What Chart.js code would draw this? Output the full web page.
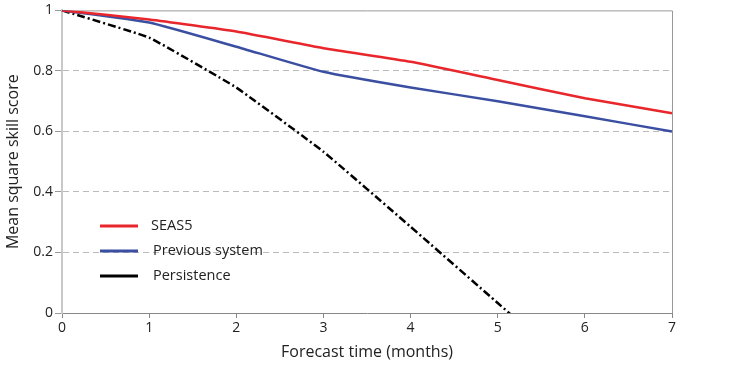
<!DOCTYPE html>
<html>
<head>
<meta charset="utf-8">
<script src="https://cdn.jsdelivr.net/npm/chart.js@4"></script>
<style>
  html, body { margin: 0; padding: 0; background: #fff; }
  #wrap { width: 754px; height: 366px; }
</style>
</head>
<body>
<div id="wrap"><canvas id="skillChart" width="754" height="366"></canvas></div>
<script>
const months = ["0", "1", "2", "3", "4", "5", "6", "7"];
const seas5 = [1, 0.97, 0.93, 0.875, 0.83, 0.77, 0.71, 0.66];
const previousSystem = [1, 0.96, 0.88, 0.797, 0.745, 0.70, 0.65, 0.60];
// persistence drops below zero after ~5.1 months, clipped by the axis
const persistence = [1, 0.91, 0.745, 0.533, 0.285, 0.033, -0.22, -0.47];
const yTicks = [0, 0.2, 0.4, 0.6, 0.8, 1];

const FONT = "'Open Sans', 'Noto Sans', sans-serif";

// legend drawn inside the plot, lower left
const insideLegend = {
  id: "insideLegend",
  afterDraw(chart) {
    const ctx = chart.ctx;
    const rows = [226, 251, 276];
    ctx.save();
    chart.data.datasets.forEach((ds, i) => {
      const y = rows[i];
      ctx.beginPath();
      ctx.setLineDash([]);
      ctx.strokeStyle = ds.borderColor;
      ctx.lineWidth = 3;
      ctx.moveTo(100, y);
      ctx.lineTo(138, y);
      ctx.stroke();
      ctx.fillStyle = "#222";
      ctx.font = "14.5px " + FONT;
      ctx.textBaseline = "middle";
      ctx.fillText(ds.label, i === 0 ? 151 : 153, y);
    });
    ctx.restore();
  }
};

// top and right frame lines
const frame = {
  id: "frame",
  beforeDatasetsDraw(chart) {
    const { ctx, chartArea: a } = chart;
    ctx.save();
    ctx.strokeStyle = "#999";
    ctx.lineWidth = 1;
    ctx.beginPath();
    ctx.moveTo(a.left, a.top + 0.5);
    ctx.lineTo(a.right + 0.5, a.top + 0.5);
    ctx.lineTo(a.right + 0.5, a.bottom);
    ctx.stroke();
    ctx.restore();
  }
};

const ctx = document.getElementById("skillChart").getContext("2d");

new Chart(ctx, {
  type: "line",
  data: {
    labels: months,
    datasets: [
      {
        label: "SEAS5",
        data: seas5,
        borderColor: "#e8262b",
        borderWidth: 2.5,
        pointRadius: 0,
        tension: 0.15
      },
      {
        label: "Previous system",
        data: previousSystem,
        borderColor: "#3b4fa2",
        borderWidth: 2.5,
        pointRadius: 0,
        tension: 0.15
      },
      {
        label: "Persistence",
        data: persistence,
        borderColor: "#000",
        borderWidth: 2.5,
        borderDash: [8, 3, 2, 3],
        pointRadius: 0,
        tension: 0.1
      }
    ]
  },
  options: {
    responsive: false,
    animation: false,
    layout: { padding: { top: 8, right: 82, left: 0, bottom: 0 } },
    plugins: {
      legend: { display: false },
      tooltip: { enabled: false }
    },
    scales: {
      x: {
        offset: false,
        afterFit: s => { s.height = 53; },
        grid: {
          drawOnChartArea: false,
          drawTicks: true,
          tickLength: 5,
          tickColor: "#888"
        },
        border: { color: "#888", width: 1 },
        ticks: {
          color: "#222",
          font: { family: FONT, size: 14 },
          padding: 2,
          maxRotation: 0
        },
        title: {
          display: true,
          text: "Forecast time (months)",
          color: "#222",
          font: { family: FONT, size: 16 },
          padding: { top: 1 }
        }
      },
      y: {
        min: 0,
        max: 1,
        afterFit: s => { s.width = 62; },
        afterBuildTicks: s => { s.ticks = yTicks.map(v => ({ value: v })); },
        grid: {
          color: c => (c.tick.value === 0 || c.tick.value === 1) ? "rgba(0,0,0,0)" : "#bbb",
          lineWidth: 1,
          tickColor: "#999",
          tickLength: 7,
          drawTicks: true
        },
        border: { color: "#c8c8c8", width: 2, dash: [6, 4] },
        ticks: {
          color: "#222",
          font: { family: FONT, size: 14 },
          padding: 2,
          callback: v => String(v)
        },
        title: {
          display: true,
          text: "Mean square skill score",
          color: "#222",
          font: { family: FONT, size: 16 },
          padding: { bottom: 2 }
        }
      }
    }
  },
  plugins: [frame, insideLegend]
});
</script>
</body>
</html>
